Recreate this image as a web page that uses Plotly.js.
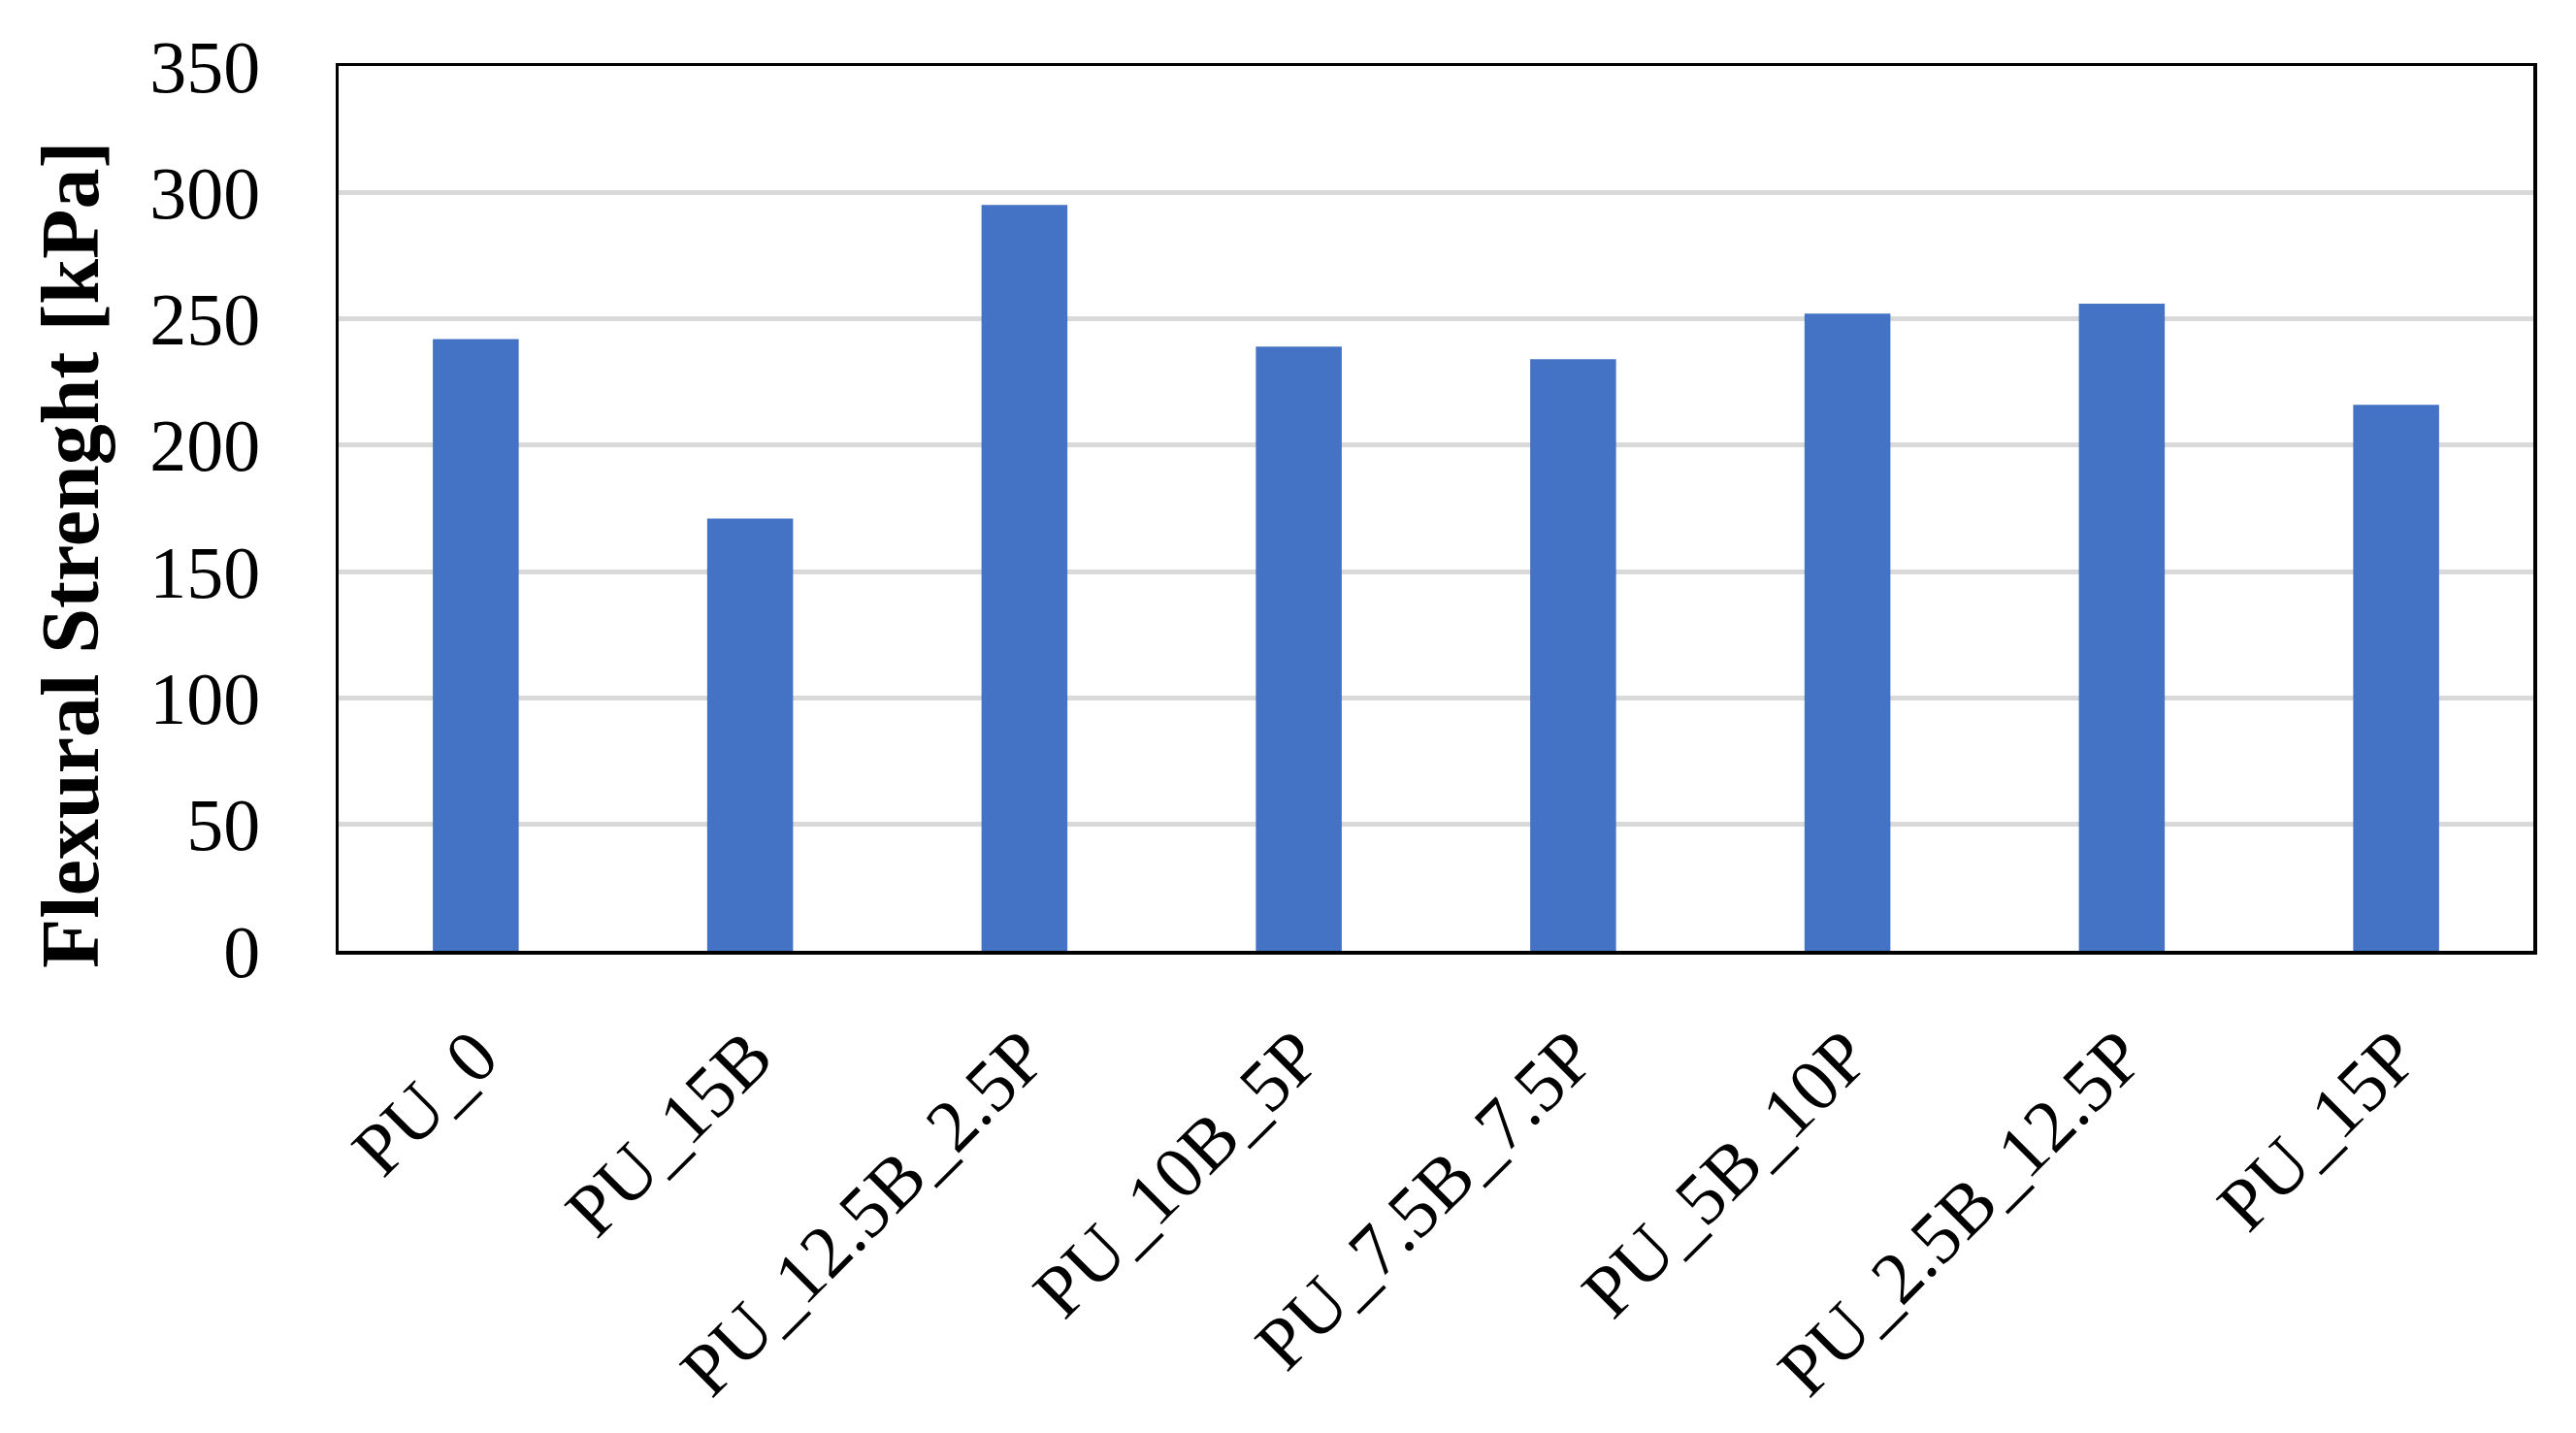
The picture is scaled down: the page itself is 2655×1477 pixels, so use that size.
<!DOCTYPE html>
<html>
<head>
<meta charset="utf-8">
<script src="https://cdn.plot.ly/plotly-3.0.1.min.js"></script>
<style>
  html, body { margin: 0; padding: 0; background: #fff; }
  #plot { width: 2655px; height: 1477px; }
</style>
</head>
<body>
<div id="plot"></div>
<script>
var samples = ['PU_0', 'PU_15B', 'PU_12.5B_2.5P', 'PU_10B_5P', 'PU_7.5B_7.5P', 'PU_5B_10P', 'PU_2.5B_12.5P', 'PU_15P'];
var strength = [242, 171, 295, 239, 234, 252, 256, 216];
var yTicks = [0, 50, 100, 150, 200, 250, 300, 350];

var serif = 'Liberation Serif, Times New Roman, serif';

var data = [{
    type: 'bar',
    x: samples,
    y: strength,
    width: 0.313,
    marker: { color: '#4472c4' },
    hoverinfo: 'x+y'
}];

var layout = {
    width: 2655,
    height: 1477,
    margin: { l: 349, r: 44, t: 68, b: 497 },
    paper_bgcolor: '#ffffff',
    plot_bgcolor: '#ffffff',
    font: { family: serif, size: 76, color: '#000000' },
    showlegend: false,
    xaxis: {
        type: 'category',
        tickangle: -45,
        ticks: '',
        ticklabelstandoff: 30,
        showgrid: false,
        showline: true,
        mirror: true,
        linecolor: '#000000',
        linewidth: 3.5,
        tickfont: { family: serif, size: 76, color: '#000000' }
    },
    yaxis: {
        range: [0, 350],
        tickvals: yTicks,
        ticks: '',
        ticklabelstandoff: 62,
        showgrid: true,
        gridcolor: '#d9d9d9',
        gridwidth: 5,
        zeroline: false,
        showline: true,
        mirror: true,
        linecolor: '#000000',
        linewidth: 3.5,
        tickfont: { family: serif, size: 76, color: '#000000' }
    },
    annotations: [{
        text: '<b>Flexural Strenght [kPa]</b>',
        xref: 'paper', yref: 'paper',
        x: 0, y: 0.5,
        xanchor: 'center', yanchor: 'middle',
        xshift: -277, yshift: -48,
        textangle: -90,
        showarrow: false,
        font: { family: serif, size: 84, color: '#000000' }
    }]
};

Plotly.newPlot(document.getElementById('plot'), data, layout, { displayModeBar: false, staticPlot: true });
</script>
</body>
</html>
